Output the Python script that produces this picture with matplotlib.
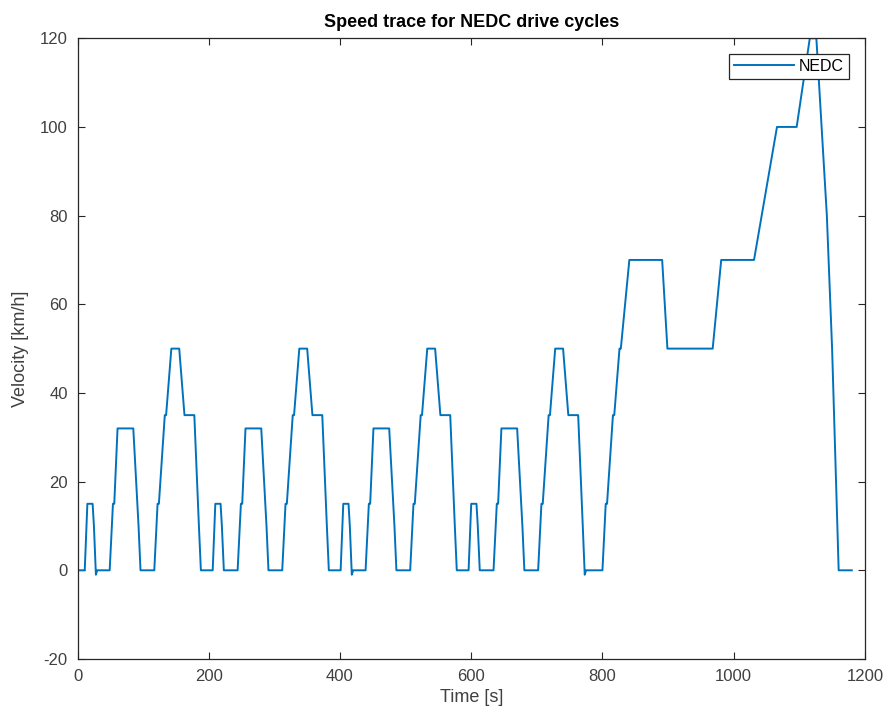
import numpy as np
import matplotlib
matplotlib.use('Agg')
import matplotlib.pyplot as plt

# NEDC speed trace breakpoints (4x urban ECE + extra-urban EUDC)
ece1_t = [0, 11, 15, 23, 25, 28, 30, 49, 54, 56, 61, 85, 93, 96, 117, 122, 124, 133, 135, 143, 155, 163, 176, 178, 185, 188, 195]
ece1_v = [0, 0, 15, 15, 10, -1, 0, 0, 15, 15, 32, 32, 10, 0, 0, 15, 15, 35, 35, 50, 50, 35, 35, 35, 10, 0, 0]
ece2_t = [206, 210, 218, 220, 223, 244, 249, 251, 256, 280, 288, 291, 312, 317, 319, 328, 330, 338, 350, 358, 371, 373, 380, 383, 390]
ece2_v = [0, 15, 15, 10, 0, 0, 15, 15, 32, 32, 10, 0, 0, 15, 15, 35, 35, 50, 50, 35, 35, 35, 10, 0, 0]
ece3_t = [401, 405, 413, 415, 418, 420, 439, 444, 446, 451, 475, 483, 486, 507, 512, 514, 523, 525, 533, 545, 553, 566, 568, 575, 578, 585]
ece3_v = [0, 15, 15, 10, -1, 0, 0, 15, 15, 32, 32, 10, 0, 0, 15, 15, 35, 35, 50, 50, 35, 35, 35, 10, 0, 0]
ece4_t = [596, 600, 608, 610, 613, 634, 639, 641, 646, 670, 678, 681, 702, 707, 709, 718, 720, 728, 740, 748, 761, 763, 770, 773, 775]
ece4_v = [0, 15, 15, 10, 0, 0, 15, 15, 32, 32, 10, 0, 0, 15, 15, 35, 35, 50, 50, 35, 35, 35, 10, -1, 0]
eudc_t = [800, 805, 807, 816, 818, 826, 828, 841, 891, 899, 968, 981, 1031, 1066, 1096, 1116, 1126, 1142, 1150, 1160, 1180]
eudc_v = [0, 15, 15, 35, 35, 50, 50, 70, 70, 50, 50, 70, 70, 100, 100, 120, 120, 80, 50, 0, 0]

time = ece1_t + ece2_t + ece3_t + ece4_t + eudc_t
speed = ece1_v + ece2_v + ece3_v + ece4_v + eudc_v

plt.rcParams['font.family'] = ['Liberation Sans', 'DejaVu Sans']
plt.rcParams['axes.unicode_minus'] = False
axcol = '#262626'

fig = plt.figure(figsize=(8.88, 7.22), dpi=100)
ax = fig.add_axes([0.0873, 0.0873, 0.8867, 0.8597])
ax.plot(time, speed, color='#0072BD', lw=1.4, label='NEDC', solid_joinstyle='round')

ax.set_xlim(0, 1200)
ax.set_ylim(-20, 120)
ax.set_xticks(np.arange(0, 1201, 200))
ax.set_yticks(np.arange(-20, 121, 20))
ax.tick_params(direction='in', top=True, right=True, length=5, width=0.8,
               colors=axcol, labelsize=12, labelcolor='#404040', pad=7)
for s in ax.spines.values():
    s.set_color(axcol)
    s.set_linewidth(0.9)

ax.set_xlabel('Time [s]', fontsize=13, color='#404040', labelpad=4)
ax.set_ylabel('Velocity [km/h]', fontsize=13, color='#404040', labelpad=8)
ax.set_title('Speed trace for NEDC drive cycles', fontsize=13, fontweight='bold', pad=8)

leg = ax.legend(loc='upper right', fontsize=11.5, handlelength=3.8, fancybox=False,
                framealpha=1, borderpad=0.3, handletextpad=0.3, borderaxespad=1.0)
leg.get_frame().set_edgecolor(axcol)
leg.get_frame().set_linewidth(0.9)

fig.savefig('out.png', dpi=100)
